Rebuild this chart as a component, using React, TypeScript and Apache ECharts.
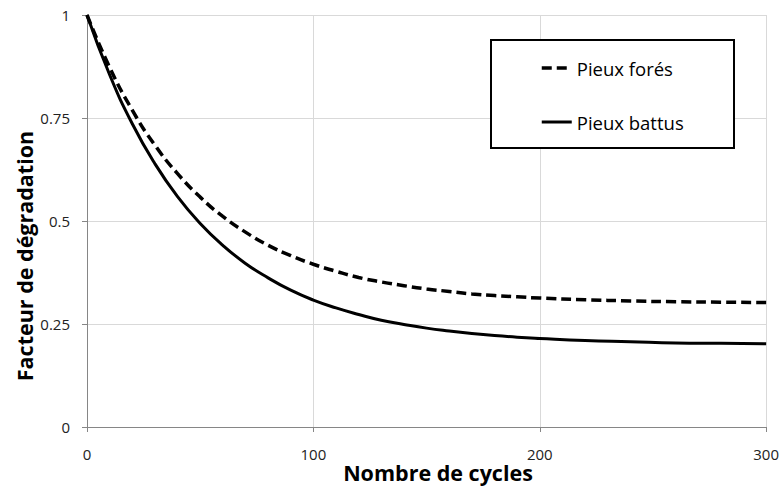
import React, { useEffect, useRef } from "react";
import * as echarts from "echarts";

const cycles = [0, 10, 20, 30, 40, 50, 60, 70, 80, 90, 100, 110, 120, 130, 140, 150, 160, 170, 180, 190, 200, 220, 240, 260, 280, 300];
const pieuxFores = [1.0, 0.873, 0.769, 0.684, 0.615, 0.558, 0.511, 0.473, 0.441, 0.416, 0.395, 0.378, 0.363, 0.352, 0.343, 0.335, 0.329, 0.323, 0.319, 0.316, 0.313, 0.309, 0.306, 0.304, 0.303, 0.302];
const pieuxBattus = [1.0, 0.855, 0.736, 0.639, 0.559, 0.494, 0.441, 0.397, 0.362, 0.332, 0.308, 0.289, 0.273, 0.259, 0.249, 0.24, 0.233, 0.227, 0.222, 0.218, 0.215, 0.21, 0.207, 0.204, 0.203, 0.202];
const seriesNames = ["Pieux forés", "Pieux battus"];
const xTitle = "Nombre de cycles";
const yTitle = "Facteur de dégradation";

const FONT = "'Open Sans', 'Noto Sans', sans-serif";

export default function App() {
  const ref = useRef<HTMLDivElement>(null);
  useEffect(() => {
    if (!ref.current) return;
    const chart = echarts.init(ref.current, undefined, { renderer: "svg" });
    const pairs = (ys: number[]) => cycles.map((c, i) => [c, ys[i]]);
    chart.setOption({
      animation: false,
      backgroundColor: "#ffffff",
      grid: { left: 87, right: 14, top: 15, bottom: 61, containLabel: false },
      xAxis: {
        type: "value",
        min: 0,
        max: 300,
        interval: 100,
        axisLine: { show: true, lineStyle: { color: "#868686", width: 1 } },
        axisTick: { show: true, length: 5, lineStyle: { color: "#868686" } },
        axisLabel: { margin: 19, fontSize: 15, fontFamily: FONT, color: "#222" },
        splitLine: { show: true, lineStyle: { color: "#d9d9d9", width: 1 } },
      },
      yAxis: {
        type: "value",
        min: 0,
        max: 1,
        interval: 0.25,
        axisLine: { show: true, lineStyle: { color: "#868686", width: 1 } },
        axisTick: { show: true, length: 5, lineStyle: { color: "#868686" } },
        axisLabel: { margin: 17, fontSize: 15, fontFamily: FONT, color: "#222" },
        splitLine: { show: true, lineStyle: { color: "#d9d9d9", width: 1 } },
      },
      legend: {
        orient: "vertical",
        left: 540,
        top: 58.5,
        padding: 0,
        itemWidth: 30,
        itemHeight: 14,
        itemGap: 35,
        itemStyle: { color: "transparent", borderWidth: 0, opacity: 0 },
        textStyle: { fontSize: 18.5, fontFamily: FONT, color: "#000" },
        data: [
          { name: seriesNames[0], lineStyle: { width: 3.5 } },
          { name: seriesNames[1], lineStyle: { width: 3 } },
        ],
        z: 5,
      },
      graphic: [
        {
          type: "rect",
          z: 3,
          shape: { x: 491, y: 40, width: 243, height: 108 },
          style: { fill: "#ffffff", stroke: "#000000", lineWidth: 2 },
        },
        {
          type: "text",
          x: 438,
          y: 472,
          style: {
            text: xTitle,
            fontSize: 21.5,
            fontWeight: "bold",
            fontFamily: FONT,
            fill: "#000",
            align: "center",
            verticalAlign: "middle",
          },
        },
        {
          type: "text",
          x: 24,
          y: 256,
          rotation: Math.PI / 2,
          style: {
            text: yTitle,
            fontSize: 21.5,
            fontWeight: "bold",
            fontFamily: FONT,
            fill: "#000",
            align: "center",
            verticalAlign: "middle",
          },
        },
      ],
      series: [
        {
          name: seriesNames[0],
          type: "line",
          smooth: true,
          symbol: "none",
          data: pairs(pieuxFores),
          lineStyle: { color: "#000", width: 3.5, type: [10, 5] },
          itemStyle: { color: "#000" },
        },
        {
          name: seriesNames[1],
          type: "line",
          smooth: true,
          symbol: "none",
          data: pairs(pieuxBattus),
          lineStyle: { color: "#000", width: 3, type: "solid" },
          itemStyle: { color: "#000" },
        },
      ],
    });
    return () => chart.dispose();
  }, []);
  return <div ref={ref} style={{ position: "fixed", left: 0, top: 0, width: 782, height: 488 }} />;
}
